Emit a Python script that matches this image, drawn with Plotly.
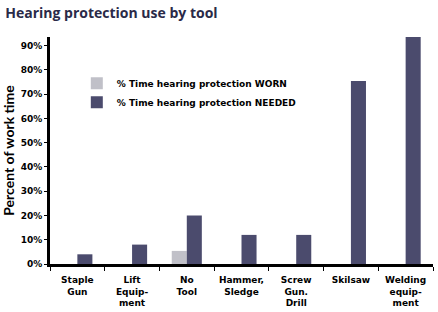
import plotly.graph_objects as go

categories = ["Staple<br>Gun", "Lift<br>Equip-<br>ment", "No<br>Tool", "Hammer,<br>Sledge",
              "Screw<br>Gun.<br>Drill", "Skilsaw", "Welding<br>equip-<br>ment"]
worn = [0, 0, 0.054, 0, 0, 0, 0]
needed = [0.04, 0.08, 0.20, 0.12, 0.12, 0.755, 0.94]
yticks = [0, 0.1, 0.2, 0.3, 0.4, 0.5, 0.6, 0.7, 0.8, 0.9]

FONT = "DejaVu Sans"
fig = go.Figure()
fig.add_trace(go.Bar(x=categories, y=worn, name="% Time hearing protection WORN",
                     marker=dict(color="#c0c0c8", line=dict(width=0))))
fig.add_trace(go.Bar(x=categories, y=needed, name="% Time hearing protection NEEDED",
                     marker=dict(color="#4b4b6d", line=dict(width=0))))

fig.update_layout(
    width=438, height=312,
    margin=dict(l=50, r=5, t=37, b=48),
    paper_bgcolor="white", plot_bgcolor="white",
    barmode="group", bargap=0.45, bargroupgap=0,
    font=dict(family=FONT, color="black", size=9),
    title=dict(text="<b>Hearing protection use by tool</b>", x=0.012, xanchor="left",
               y=0.958, yanchor="middle", font=dict(family="Open Sans", size=14, color="#2a2a48")),
    legend=dict(x=0.07, y=0.86, xanchor="left", yanchor="top", bgcolor="rgba(0,0,0,0)",
                font=dict(family=FONT, size=9, color="black", weight="bold"),
                itemwidth=30, tracegroupgap=4),
    showlegend=True,
)
fig.update_xaxes(type="category", showline=True, linecolor="black", linewidth=3,
                 ticks="outside", tickson="boundaries", ticklen=4, tickwidth=1, tickcolor="black",
                 ticklabelstandoff=5,
                 tickfont=dict(family=FONT, size=9, weight="bold"), showgrid=False, zeroline=False,
                 range=[-0.5, 6.5])
fig.update_yaxes(range=[0, 0.936], showline=True, linecolor="black", linewidth=3,
                 tickvals=yticks, tickformat=".0%", ticks="outside", ticklen=3, tickcolor="black",
                 tickfont=dict(family=FONT, size=9, weight="bold"), showgrid=False, zeroline=False,
                 title=dict(text="<b>Percent of work time</b>", font=dict(family="Lato", size=14),
                            standoff=4))

fig.write_html("out.html")
